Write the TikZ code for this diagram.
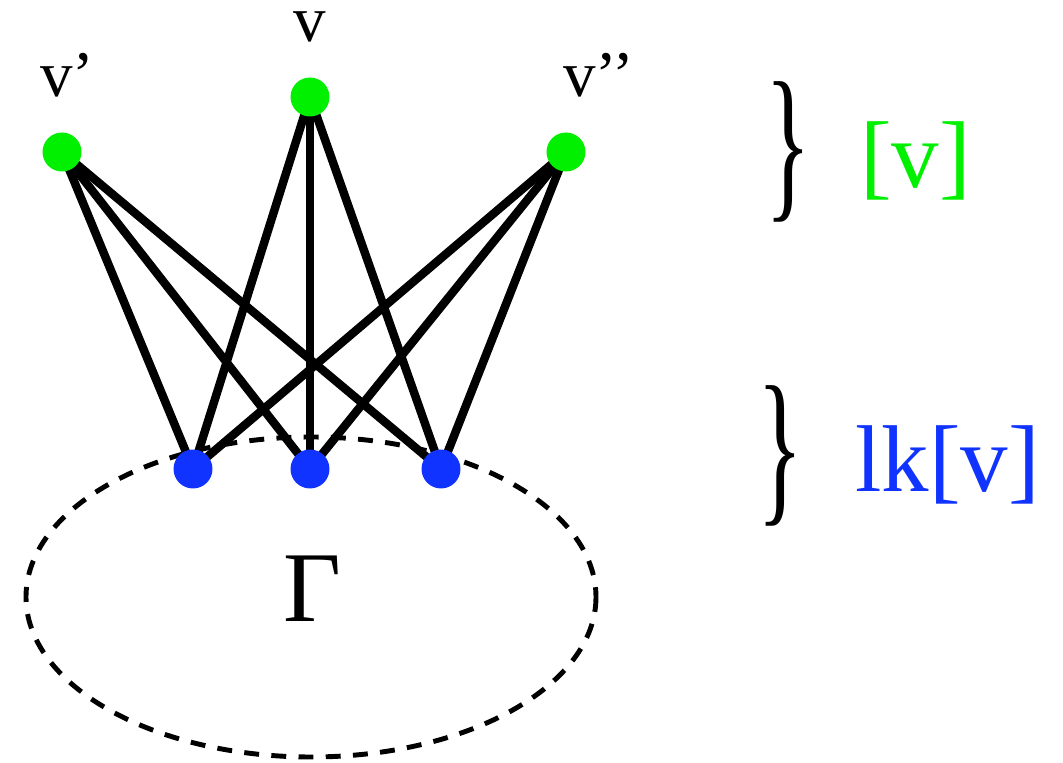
\documentclass[tikz,border=0pt]{standalone}
\usepackage{fontspec}
\setmainfont{Liberation Serif}
\usepackage{graphicx}
\usetikzlibrary{backgrounds}
\definecolor{vgreen}{RGB}{0,240,0}
\definecolor{lkblue}{RGB}{16,51,255}
\tikzset{
  px/.style={x=0.02cm,y=-0.02cm},
  topvert/.style={circle,fill=vgreen,minimum size=0.78cm,inner sep=0pt},
  linkvert/.style={circle,fill=lkblue,minimum size=0.78cm,inner sep=0pt},
  edge/.style={line width=4.8pt,black},
  vlabel/.style={inner sep=0pt,font=\fontsize{37}{40}\selectfont},
  biglabel/.style={inner sep=0pt,font=\fontsize{54}{60}\selectfont},
  bracenode/.style={inner sep=0pt}
}
\begin{document}
\begin{tikzpicture}[px]
\useasboundingbox (0,0) rectangle (1063,763);
% vertices
\node[topvert] (vp)  at (62,152) {};
\node[topvert] (v)   at (310,97) {};
\node[topvert] (vpp) at (566,152) {};
\node[linkvert] (a) at (193,469) {};
\node[linkvert] (b) at (310,469) {};
\node[linkvert] (c) at (441,469) {};
% subgraph Gamma
\node[inner sep=0pt,font=\fontsize{57}{60}\selectfont,anchor=base] (gam) at (312,622) {Γ};
\begin{scope}[on background layer]
  \draw[line width=2.8pt,dash pattern=on 8.5pt off 7pt] (311,597) ellipse [x radius=285, y radius=160];
  \foreach \s in {vp,v,vpp}
    \foreach \t in {a,b,c}
      \draw[edge] (\s.center) -- (\t.center);
\end{scope}
% vertex labels
\node[vlabel,anchor=base] (lv) at (310,42) {v};
\node[vlabel,anchor=base west] (lvp) at (40,97) {v’};
\node[vlabel,anchor=base west] (lvpp) at (563,97) {v’’};
% braces and set labels
\node[bracenode] (br1) at (788,152) {\resizebox*{26pt}{80pt}{\}}};
\node[bracenode] (br2) at (780,456) {\resizebox*{26pt}{80pt}{\}}};
\node[biglabel,anchor=base west,text=vgreen] (star) at (860,188) {[v]};
\node[biglabel,anchor=base west,text=lkblue] (lk) at (855,492) {lk[v]};
\end{tikzpicture}
\end{document}
